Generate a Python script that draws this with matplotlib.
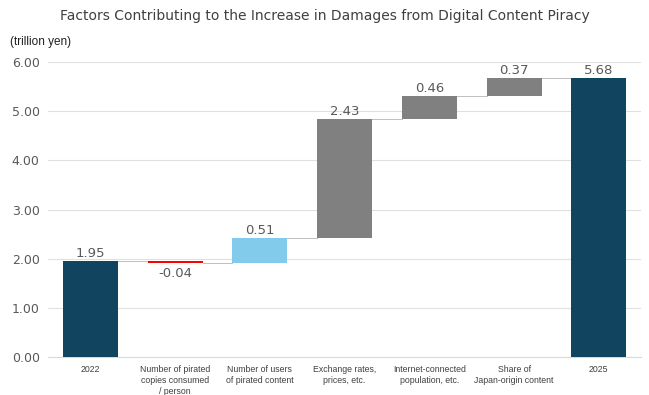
import matplotlib.pyplot as plt
import numpy as np

categories = ["2022", "Number of pirated\ncopies consumed\n/ person",
              "Number of users\nof pirated content", "Exchange rates,\nprices, etc.",
              "Internet-connected\npopulation, etc.", "Share of\nJapan-origin content", "2025"]
changes = [1.95, -0.04, 0.51, 2.43, 0.46, 0.37, 5.68]
kinds = ["total", "delta", "delta", "delta", "delta", "delta", "total"]
colors = ["#11455F", "#FF0000", "#83CBEB", "#808080", "#808080", "#808080", "#11455F"]
yticks = [0, 1, 2, 3, 4, 5, 6]

fig = plt.figure(figsize=(6.49, 3.95), dpi=100)
ax = fig.add_axes([0.074, 0.096, 0.914, 0.747])

x = np.arange(len(categories))
width = 0.65
running = 0.0
tops = []
for i, (v, k, c) in enumerate(zip(changes, kinds, colors)):
    if k == "total":
        bottom, height = 0.0, v
        running = v
    else:
        bottom, height = running, v
        running += v
    ax.bar(x[i], height, bottom=bottom, width=width, color=c, zorder=3)
    tops.append(running)
    if v < 0:
        ax.text(x[i], running - 0.07, f"{v:.2f}", ha="center", va="top",
                fontsize=9.5, color="#595959")
    else:
        ax.text(x[i], bottom + height + 0.02, f"{v:.2f}", ha="center", va="bottom",
                fontsize=9.5, color="#595959")

# connector lines
for i in range(len(categories) - 1):
    ax.plot([x[i] + width / 2, x[i + 1] - width / 2], [tops[i], tops[i]],
            color="#BFBFBF", lw=0.7, zorder=2)

ax.set_xlim(-0.5, len(categories) - 0.5)
ax.set_ylim(0, 6)
ax.set_yticks(yticks)
ax.set_yticklabels([f"{t:.2f}" for t in yticks], fontsize=9, color="#595959")
ax.set_xticks(x)
ax.set_xticklabels(categories, fontsize=6.3, color="#404040", family="Liberation Sans",
                   linespacing=1.25)
ax.tick_params(length=0, pad=6)
ax.grid(axis="y", color="#E0E0E0", lw=0.8, zorder=0)
for s in ["top", "right", "left"]:
    ax.spines[s].set_visible(False)
ax.spines["bottom"].set_color("#D9D9D9")

fig.text(0.5, 0.96, "Factors Contributing to the Increase in Damages from Digital Content Piracy",
         ha="center", va="center", fontsize=10, color="#404040")
fig.text(0.015, 0.893, "(trillion yen)", ha="left", va="center", fontsize=8.5,
         color="#202020", family="Liberation Sans")

fig.savefig("out.png", dpi=100)
